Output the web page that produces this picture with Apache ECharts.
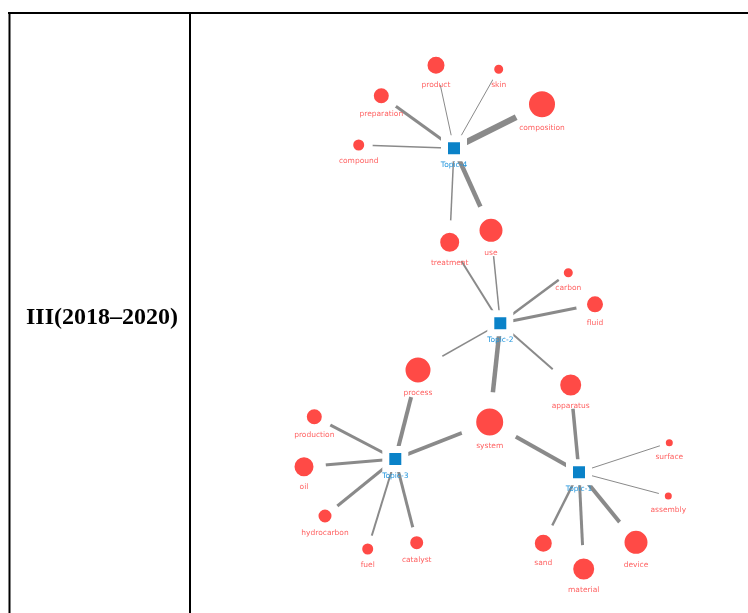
<!DOCTYPE html>
<html>
<head>
<meta charset="utf-8">
<script src="https://cdn.jsdelivr.net/npm/echarts@6/dist/echarts.min.js"></script>
<style>
html,body{margin:0;padding:0;background:#fff;}
#chart{width:748px;height:613px;}
</style>
</head>
<body>
<div id="chart"></div>
<script>
// ---- data ----
const periodLabel = 'III(2018–2020)';
const topicNames = ['Topic-1', 'Topic-2', 'Topic-3', 'Topic-4'];
const nodeNames = ['Topic-1','Topic-2','Topic-3','Topic-4','product','skin','preparation','composition','compound','treatment','use','carbon','fluid','process','system','apparatus','production','oil','hydrocarbon','fuel','catalyst','surface','assembly','sand','material','device'];
const nodeX = [579, 500.3, 395.3, 454, 436, 498.7, 381.3, 542, 358.7, 449.7, 491, 568.3, 595, 418, 489.7, 570.7, 314.3, 304, 325, 367.7, 416.7, 669.3, 668.3, 543.3, 583.7, 636];
const nodeY = [472.3, 323.3, 459, 148.3, 65.3, 69.3, 95.7, 104.3, 145, 242.3, 230.3, 272.7, 304.3, 370, 422, 385, 416.7, 466.7, 516, 549, 542.7, 442.7, 496, 543.3, 569, 542.3];
const nodeSize = [12, 12, 12, 12, 17, 9, 15, 26, 11, 19, 23, 9, 16, 25, 27, 21, 15, 19, 13, 11, 13, 7, 7, 17, 21, 23];
const edgeSource = ['Topic-4','Topic-4','Topic-4','Topic-4','Topic-4','Topic-4','Topic-4',
  'Topic-2','Topic-2','Topic-2','Topic-2','Topic-2','Topic-2','Topic-2',
  'Topic-3','Topic-3','Topic-3','Topic-3','Topic-3','Topic-3','Topic-3',
  'Topic-1','Topic-1','Topic-1','Topic-1','Topic-1','Topic-1','Topic-1'];
const edgeTarget = ['composition','preparation','product','skin','compound','treatment','use',
  'use','treatment','carbon','fluid','process','system','apparatus',
  'process','system','production','oil','hydrocarbon','fuel','catalyst',
  'system','apparatus','surface','assembly','sand','material','device'];
const edgeWeight = [6, 3, 1, 1, 1.5, 1.5, 4.5,
  1.5, 2, 2.5, 3, 1.5, 4.5, 2,
  4, 3.5, 3, 3, 3, 2, 3,
  4, 3.5, 1, 1, 2.5, 3, 4];

// ---- build ----
const nodes = nodeNames.map((n, i) => {
  const isTopic = topicNames.indexOf(n) >= 0;
  const d = nodeSize[i];
  const gap = isTopic ? 7 : d / 2 + 3;
  return {
    name: n,
    x: nodeX[i],
    y: nodeY[i],
    symbol: isTopic ? 'rect' : 'circle',
    symbolSize: d + gap,
    itemStyle: {
      color: isTopic ? '#0a82c8' : '#ff4a46',
      borderColor: '#ffffff',
      borderWidth: gap
    },
    label: {
      show: true,
      position: 'inside',
      offset: [0, d / 2 + 11],
      color: isTopic ? '#1f94dc' : '#ff6262',
      fontFamily: 'DejaVu Sans',
      fontSize: 7.5,
      textBorderWidth: 0
    }
  };
});
const links = edgeSource.map((s, i) => ({
  source: s,
  target: edgeTarget[i],
  lineStyle: { width: edgeWeight[i] }
}));
const minX = Math.min(...nodeX), maxX = Math.max(...nodeX);
const minY = Math.min(...nodeY), maxY = Math.max(...nodeY);

const chart = echarts.init(document.getElementById('chart'), null, { renderer: 'canvas' });
chart.setOption({
  animation: false,
  backgroundColor: '#ffffff',
  graphic: [
    { type: 'line', shape: { x1: 8, y1: 13, x2: 748, y2: 13 }, style: { stroke: '#000', lineWidth: 2 }, z: 10 },
    { type: 'line', shape: { x1: 9.5, y1: 12, x2: 9.5, y2: 613 }, style: { stroke: '#000', lineWidth: 2 }, z: 10 },
    { type: 'line', shape: { x1: 190, y1: 12, x2: 190, y2: 613 }, style: { stroke: '#000', lineWidth: 2 }, z: 10 },
    { type: 'text', x: 102, y: 318, style: { text: periodLabel, fill: '#000', font: 'bold 24px "Liberation Serif"', textAlign: 'center', textVerticalAlign: 'middle' }, z: 10 }
  ],
  series: [{
    type: 'graph',
    layout: 'none',
    left: minX,
    top: minY,
    width: maxX - minX,
    height: maxY - minY,
    roam: false,
    emphasis: { disabled: true },
    data: nodes,
    links: links,
    lineStyle: { color: '#8a8a8a', opacity: 1, curveness: 0 },
    edgeSymbol: ['none', 'none']
  }]
});
</script>
</body>
</html>
